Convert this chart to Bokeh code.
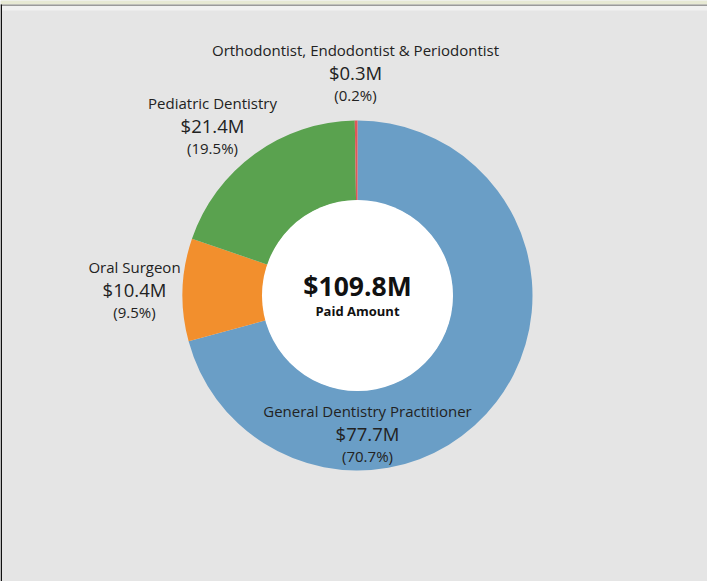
import numpy as np
from bokeh.plotting import figure
from bokeh.models import Range1d, ColumnDataSource
from bokeh.core.properties import value
from bokeh.embed import file_html
from bokeh.resources import INLINE

# ---- data ----
categories = ["General Dentistry Practitioner", "Oral Surgeon", "Pediatric Dentistry",
              "Orthodontist, Endodontist & Periodontist"]
amounts_m = [77.7, 10.4, 21.4, 0.27]
amount_labels = ["$77.7M", "$10.4M", "$21.4M", "$0.3M"]
pct_labels = ["(70.7%)", "(9.5%)", "(19.5%)", "(0.2%)"]
colors = ["#6a9ec6", "#f28f2d", "#5aa24f", "#e15759"]
total_label = "$109.8M"
center_caption = "Paid Amount"

# label anchor positions (pixel coordinates from top-left)
label_px = [(367, 410), (134, 266), (212, 102), (355, 49)]

W, H = 707, 581
cx, cy_px = 357, 295
r_out, r_in = 175, 95

p = figure(width=W, height=H, output_backend="svg", toolbar_location=None,
           x_range=Range1d(0, W), y_range=Range1d(0, H), min_border=0,
           background_fill_color="#e5e5e5", border_fill_color="#e5e5e5")
p.axis.visible = False
p.grid.visible = False
p.outline_line_color = None

def Y(py):
    return H - py

# frame decoration
p.quad(left=[0], right=[W], bottom=[Y(4)], top=[Y(0)], fill_color="#e7e9d4", line_color=None)
p.quad(left=[0], right=[W], bottom=[Y(5.5)], top=[Y(4)], fill_color="#9a9a9a", line_color=None)
p.quad(left=[0], right=[W], bottom=[Y(10)], top=[Y(5.5)], fill_color="#f1f1f1", line_color=None)
p.quad(left=[0], right=[1.5], bottom=[0], top=[Y(4)], fill_color="#111111", line_color=None)

# donut
vals = np.array(amounts_m, dtype=float)
frac = vals / vals.sum()
cum = np.concatenate([[0], np.cumsum(frac)])
start = np.pi / 2 - cum[:-1] * 2 * np.pi
end = np.pi / 2 - cum[1:] * 2 * np.pi
src = ColumnDataSource(dict(x=[cx] * len(vals), y=[Y(cy_px)] * len(vals),
                            start=start, end=end, color=colors))
p.annular_wedge(x="x", y="y", inner_radius=r_in, outer_radius=r_out,
                start_angle="start", end_angle="end", direction="clock",
                fill_color="color", line_color=None, source=src)
p.circle(x=[cx], y=[Y(cy_px)], radius=r_in + 0.5, fill_color="white", line_color=None)

font = value("Open Sans")
tc = "#222222"
names_src = ColumnDataSource(dict(x=[l[0] for l in label_px], y=[Y(l[1]) for l in label_px], t=categories))
amt_src = ColumnDataSource(dict(x=[l[0] for l in label_px], y=[Y(l[1] + 23) for l in label_px], t=amount_labels))
pct_src = ColumnDataSource(dict(x=[l[0] for l in label_px], y=[Y(l[1] + 45) for l in label_px], t=pct_labels))
p.text(x="x", y="y", text="t", source=names_src, text_font=font, text_font_size="15px",
       text_align="center", text_baseline="middle", text_color=tc)
p.text(x="x", y="y", text="t", source=amt_src, text_font=font, text_font_size="18.5px",
       text_align="center", text_baseline="middle", text_color=tc)
p.text(x="x", y="y", text="t", source=pct_src, text_font=font, text_font_size="15px",
       text_align="center", text_baseline="middle", text_color=tc)

p.text(x=[cx], y=[Y(285)], text=[total_label], text_font=font, text_font_size="26.5px",
       text_font_style="bold", text_align="center", text_baseline="middle", text_color="#111111")
p.text(x=[cx], y=[Y(310.5)], text=[center_caption], text_font=font, text_font_size="13px",
       text_font_style="bold", text_align="center", text_baseline="middle", text_color="#111111")

open("out.html", "w").write(file_html(p, INLINE))
